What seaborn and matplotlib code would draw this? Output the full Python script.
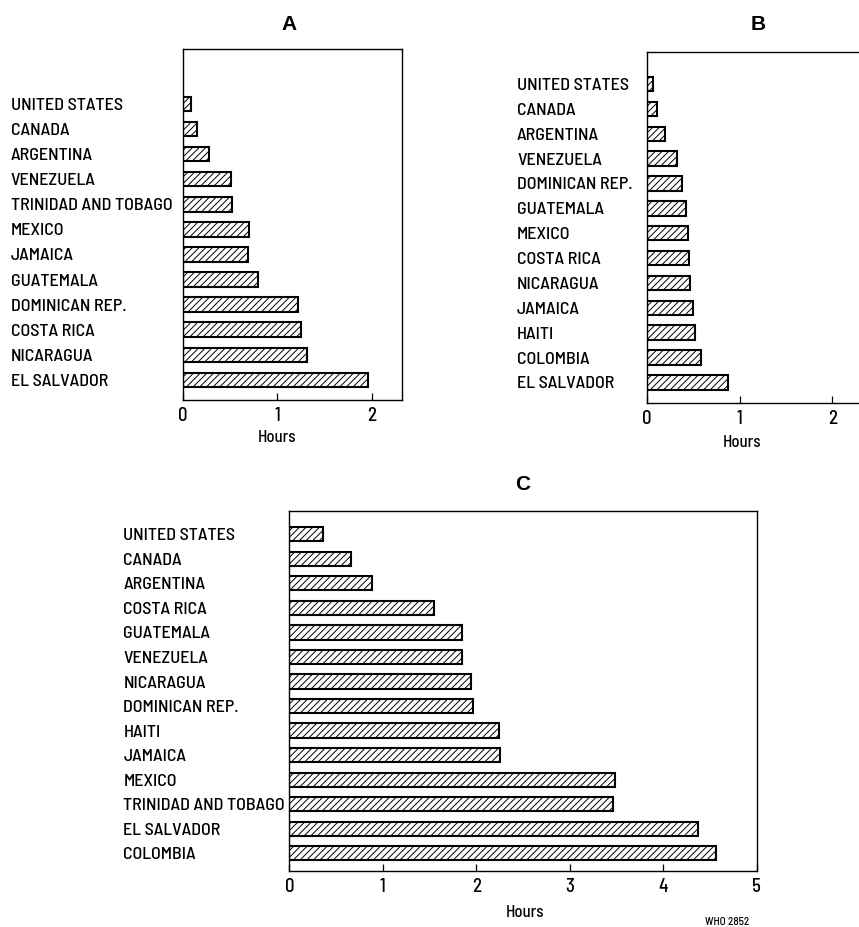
import matplotlib
matplotlib.use("Agg")
import matplotlib.pyplot as plt
import seaborn as sns
import pandas as pd

# ---------------- data ----------------
A_countries = ["UNITED STATES", "CANADA", "ARGENTINA", "VENEZUELA", "TRINIDAD AND TOBAGO",
               "MEXICO", "JAMAICA", "GUATEMALA", "DOMINICAN REP.", "COSTA RICA",
               "NICARAGUA", "EL SALVADOR"]
A_hours = [0.09, 0.15, 0.28, 0.51, 0.52, 0.70, 0.69, 0.80, 1.22, 1.25, 1.31, 1.96]

B_countries = ["UNITED STATES", "CANADA", "ARGENTINA", "VENEZUELA", "DOMINICAN REP.",
               "GUATEMALA", "MEXICO", "COSTA RICA", "NICARAGUA", "JAMAICA", "HAITI",
               "COLOMBIA", "EL SALVADOR"]
B_hours = [0.065, 0.11, 0.20, 0.33, 0.38, 0.42, 0.45, 0.46, 0.47, 0.50, 0.52, 0.59, 0.88]

C_countries = ["UNITED STATES", "CANADA", "ARGENTINA", "COSTA RICA", "GUATEMALA",
               "VENEZUELA", "NICARAGUA", "DOMINICAN REP.", "HAITI", "JAMAICA", "MEXICO",
               "TRINIDAD AND TOBAGO", "EL SALVADOR", "COLOMBIA"]
C_hours = [0.36, 0.66, 0.89, 1.55, 1.85, 1.85, 1.94, 1.96, 2.24, 2.25, 3.48, 3.46, 4.37, 4.56]

panel_titles = ["A", "B", "C"]
x_label = "Hours"
AB_ticks = [0, 1, 2]
C_ticks = [0, 1, 2, 3, 4, 5]
footnote = "WHO 2852"

# ---------------- style ----------------
sns.set_theme(style="white")
plt.rcParams['font.family'] = ['Barlow Semi Condensed', 'Archivo Narrow', 'DejaVu Sans']
plt.rcParams['text.color'] = 'black'
plt.rcParams['xtick.color'] = 'black'
plt.rcParams['ytick.color'] = 'black'
plt.rcParams['axes.labelcolor'] = 'black'
plt.rcParams['hatch.linewidth'] = 0.7
plt.rcParams['hatch.color'] = 'black'

W, H = 859, 927
fig = plt.figure(figsize=(W / 100, H / 100), dpi=100)
fig.patch.set_facecolor('white')

LABEL_FS = 13
LABEL_WEIGHT = 500


def px_axes(left, top, right, bottom):
    return fig.add_axes([left / W, 1 - bottom / H, (right - left) / W, (bottom - top) / H])


def draw_panel(ax, countries, hours, xmax, ylim, ticks, label_x_px, ax_left_px, xlabel_pos):
    df = pd.DataFrame({"country": countries, "hours": hours})
    sns.barplot(data=df, x="hours", y="country", orient="h", ax=ax,
                color="white", edgecolor="black", linewidth=1.5,
                hatch="/////", width=0.58, saturation=1)
    ax.set_xlim(0, xmax)
    ax.set_ylim(*ylim)
    ax.set_xticks(ticks)
    ax.set_xticklabels([str(t) for t in ticks])
    ax.tick_params(axis='x', direction='in', length=5, width=0.9, pad=5,
                   labelsize=LABEL_FS + 0.5, colors='black', bottom=True)
    ax.tick_params(axis='y', length=0, labelsize=LABEL_FS, colors='black',
                   pad=(ax_left_px - label_x_px) * 0.72)
    for lab in ax.get_yticklabels():
        lab.set_horizontalalignment('left')
        lab.set_fontweight(LABEL_WEIGHT)
    for lab in ax.get_xticklabels():
        lab.set_fontweight(LABEL_WEIGHT)
    for s in ax.spines.values():
        s.set_color('black')
        s.set_linewidth(1.0)
        s.set_visible(True)
    ax.set_ylabel("")
    ax.set_xlabel(x_label, fontsize=12, color='black', fontweight=LABEL_WEIGHT)
    ax.xaxis.set_label_coords(*xlabel_pos)
    ax.xaxis.label.set_verticalalignment('top')
    ax.grid(False)


# Panel A
axA = px_axes(183, 49, 402.3, 400)
draw_panel(axA, A_countries, A_hours, 2.326, (11.8, -2.19), AB_ticks, 10.7, 183, (0.427, -0.085))

# Panel B (extends beyond right edge)
axB = px_axes(646.7, 51.7, 646.7 + 2.326 * 92.8, 403.3)
draw_panel(axB, B_countries, B_hours, 2.326, (12.84, -1.30), AB_ticks, 517, 646.7, (0.44, -0.09))

# Panel C
axC = px_axes(289.3, 510.7, 756.7, 871)
draw_panel(axC, C_countries, C_hours, 5.0, (13.72, -0.96), C_ticks, 123.4, 289.3, (0.505, -0.094))

# titles
for t, (x, y) in zip(panel_titles, [(289, 25), (758, 25), (523, 485)]):
    fig.text(x / W, 1 - y / H, t, ha='center', va='center',
             fontsize=15, fontweight='bold', family=['Liberation Sans', 'DejaVu Sans'])

fig.text(727 / W, 1 - 922 / H, footnote, ha='center', va='center', fontsize=8,
         fontweight=LABEL_WEIGHT)

fig.savefig("out.png", dpi=100, facecolor='white')
